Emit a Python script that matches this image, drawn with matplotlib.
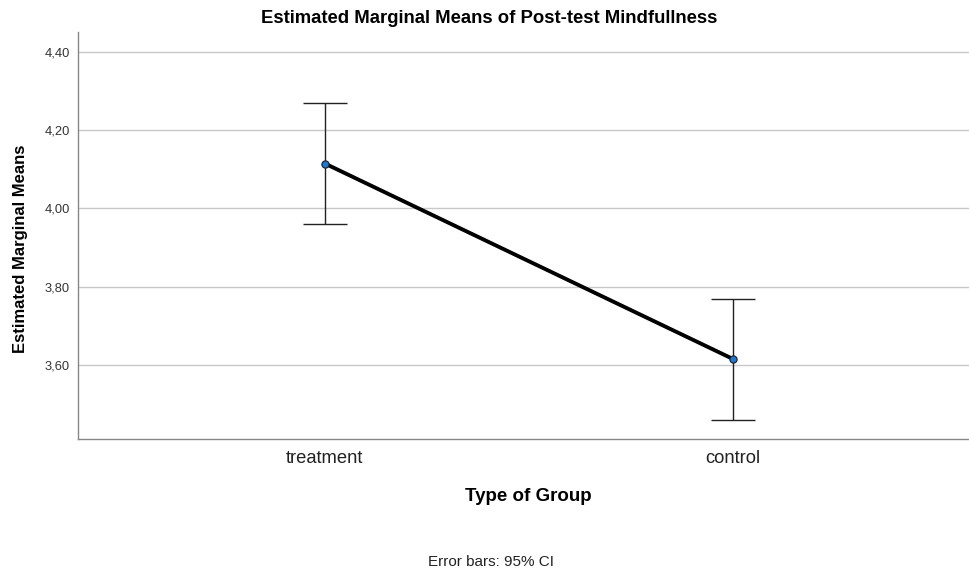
"""Estimated marginal means plot with 95% CI error bars"""
import matplotlib
matplotlib.use('Agg')
import matplotlib.pyplot as plt

plt.rcParams['font.family'] = ['Liberation Sans', 'DejaVu Sans']

groups = ['treatment', 'control']
means = [4.115, 3.615]
ci_low = [3.959, 3.459]
ci_high = [4.269, 3.769]
y_ticks = [3.60, 3.80, 4.00, 4.20, 4.40]

fig = plt.figure(figsize=(9.7, 5.75), dpi=100)
ax = fig.add_axes([0.0804, 0.2365, 0.919, 0.7075])

x = list(range(len(groups)))
err_lo = [m - lo for m, lo in zip(means, ci_low)]
err_hi = [hi - m for m, hi in zip(means, ci_high)]

ax.errorbar(x, means, yerr=[err_lo, err_hi], fmt='none', ecolor='#222222',
            elinewidth=1.0, capsize=16, capthick=1.0, zorder=3)
ax.plot(x, means, color='black', linewidth=2.8, zorder=4)
ax.plot(x, means, 'o', markersize=5.2, markerfacecolor='#1f77c9',
        markeredgecolor='#1a1a2e', markeredgewidth=0.8, zorder=5)

ax.set_xlim(-0.605, 1.58)
ax.set_ylim(3.41, 4.451)
ax.set_xticks(x)
ax.set_xticklabels(groups, fontsize=13.2, color='#222222')
ax.set_yticks(y_ticks)
ax.set_yticklabels([f'{v:.2f}'.replace('.', ',') for v in y_ticks],
                   fontsize=9.3, color='#333333')
ax.tick_params(length=0, pad=6)
ax.tick_params(axis='x', pad=8)

ax.grid(axis='y', color='#c8c8c8', linewidth=1.0)
ax.set_axisbelow(True)
for side in ['top', 'right']:
    ax.spines[side].set_visible(False)
for side in ['left', 'bottom']:
    ax.spines[side].set_color('#888888')
    ax.spines[side].set_linewidth(1.0)

fig.text(0.504, 0.968, 'Estimated Marginal Means of Post-test Mindfullness',
         ha='center', va='center', fontsize=13.3, fontweight='bold')
fig.text(0.545, 0.137, 'Type of Group', ha='center', va='center',
         fontsize=13.5, fontweight='bold')
fig.text(0.021, 0.568, 'Estimated Marginal Means', ha='center', va='center',
         rotation=90, fontsize=12, fontweight='bold',
         family=['Liberation Sans Narrow', 'Liberation Sans', 'DejaVu Sans'])
fig.text(0.506, 0.023, 'Error bars: 95% CI', ha='center', va='center',
         fontsize=11, color='#222222')

fig.savefig('out.png', dpi=100)
